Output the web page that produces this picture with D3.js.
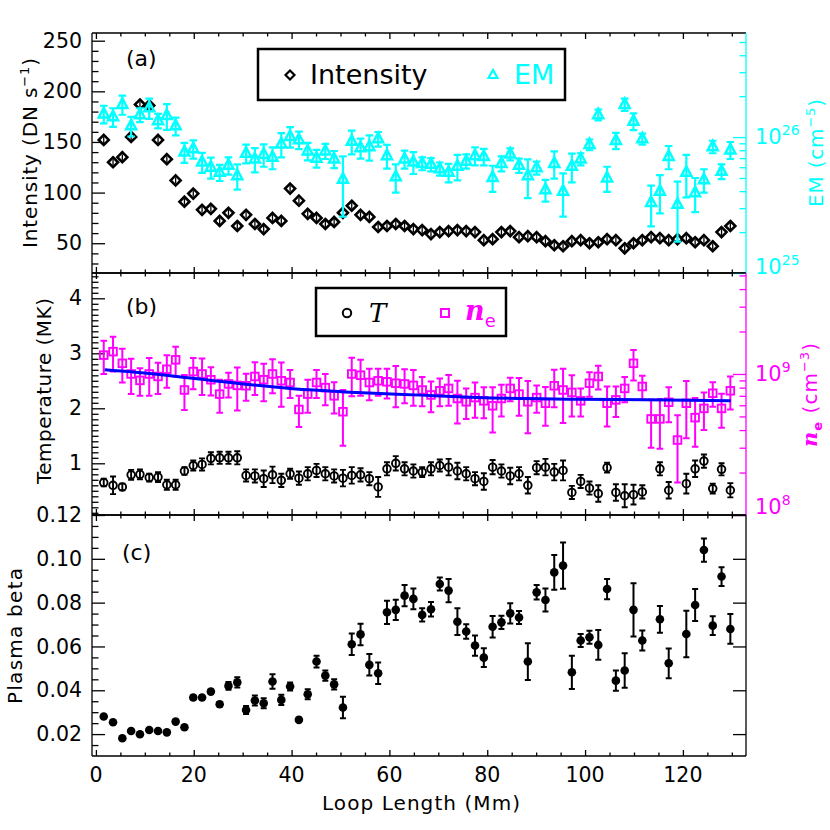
<!DOCTYPE html>
<html><head><meta charset="utf-8">
<script src="https://cdn.jsdelivr.net/npm/d3@7"></script>
<style>body{margin:0;background:#fff}svg{display:block}</style>
</head><body>
<svg id="c" width="830" height="830"></svg>
<script>
// ---------------- data ----------------
const loopLength = [1.6,3.5,5.4,7.2,9.0,10.9,12.7,14.5,16.3,18.1,19.9,21.7,23.5,25.3,27.1,28.9,30.7,32.5,34.3,36.1,37.9,39.7,41.5,43.3,45.1,46.9,48.7,50.5,52.3,54.1,55.9,57.7,59.5,61.3,63.1,64.9,66.7,68.5,70.3,72.1,73.9,75.7,77.5,79.3,81.1,82.9,84.7,86.5,88.3,90.1,91.9,93.7,95.5,97.3,99.1,100.9,102.7,104.5,106.3,108.1,109.9,111.7,113.5,115.3,117.1,118.9,120.7,122.5,124.3,126.1,127.9,129.7];
// Intensity (DN s^-1)
const intensity = [152,130,135,155,187,186,152,133,112,91, 99,83,84,72,80,67,78,69,64,75, 72,104,92,79,75,69,71,80,87,78, 76,66,67,69,67,64,63,59,61,62, 63,62,61,53,54,61,62,56,57,56, 52,48,47,52,53,50,51,54,53,45, 50,53,56,55,53,54,55,51,53,47, 61,67];
// EM in units of 1e25 cm^-5
const em = [14.8,14.1,17.4,12.1,14.6,16.4,13.2,14.4,12.1,7.75, 8.2,6.55,6.0,5.5,6.2,5.2,7.6,6.9,7.45,7.1, 8.9,10.1,9.55,7.9,7.0,7.9,6.9,4.9,9.3,8.35, 8.5,9.7,7.3,5.1,6.9,6.55,6.4,6.3,5.85,5.5, 6.1,6.65,7.3,7.2,5.05,6.4,7.5,6.2,5.2,5.95, 4.1,6.4,4.0,6.1,6.9,8.8,14.6,5.0,9.45,17.4, 13.1,9.7,3.3,4.0,7.2,3.2,5.5,3.9,4.85,8.5, 5.6,8.05];
const emErr = [2.2,2.2,2.8,2.0,1.7,2.8,1.6,3.1,1.8,1.3, 1.25,1.1,1.05,0.75,0.9,1.1,1.2,1.4,1.4,1.3, 1.8,1.75,1.4,1.15,1.05,1.0,1.0,2.3,1.85,1.4, 1.8,1.2,1.45,1.2,1.05,1.2,0.7,0.7,0.65,0.85, 1.3,0.8,1.1,1.0,1.1,0.8,0.75,0.75,1.65,0.65, 0.75,1.45,1.4,1.45,0.7,0.8,1.35,1.05,1.3,1.8, 1.85,0.9,1.1,1.25,1.4,1.5,1.9,1.1,0.95,0.9, 0.7,1.15];
// Temperature (MK)
const temperature = [0.65,0.60,0.57,0.79,0.80,0.74,0.75,0.61,0.61,0.86, 0.96,0.98,1.09,1.10,1.10,1.10,0.78,0.77,0.72,0.79, 0.69,0.81,0.73,0.81,0.87,0.81,0.77,0.73,0.78,0.79, 0.72,0.57,0.90,1.00,0.90,0.86,0.84,0.90,0.96,0.93, 0.86,0.81,0.72,0.67,0.93,0.86,0.77,0.81,0.60,0.92, 0.93,0.84,0.87,0.47,0.67,0.55,0.45,0.92,0.47,0.41, 0.43,0.48,null,0.90,0.51,null,0.63,0.90,1.04,0.54, 0.89,0.51];
const temperatureErr = [0.07,0.16,0.06,0.09,0.09,0.07,0.09,0.09,0.09,0.07, 0.09,0.11,0.11,0.11,0.11,0.12,0.11,0.12,0.15,0.15, 0.12,0.09,0.12,0.12,0.12,0.12,0.12,0.15,0.15,0.12, 0.12,0.18,0.12,0.13,0.12,0.12,0.09,0.12,0.11,0.15, 0.15,0.12,0.12,0.15,0.13,0.12,0.15,0.12,0.15,0.12, 0.15,0.15,0.18,0.12,0.12,0.12,0.15,0.09,0.15,0.21, 0.18,0.12,null,0.12,0.15,null,0.18,0.15,0.12,0.09, 0.11,0.13];
// Electron density in units of 1e8 cm^-3
const density = [13.6,14.4,11.9,10.0,9.0,10.0,9.6,10.8,12.6,7.7, 10.4,10.0,9.1,7.2,8.5,8.3,8.25,9.6,9.1,10.0, 8.95,8.7,5.6,7.2,8.7,8.0,7.0,5.4,10.0,9.8, 8.7,8.95,8.8,8.6,8.5,8.3,7.7,7.1,7.6,7.9, 6.7,6.35,6.8,6.45,5.95,6.7,7.9,7.2,6.35,6.8, 6.2,8.25,7.7,7.4,6.45,8.6,9.6,6.2,6.55,7.9, 11.9,8.15,4.8,4.8,6.3,3.4,6.2,4.9,5.7,7.3, 5.7,7.6];
const densityErr = [3.6,4.0,3.2,2.8,2.0,3.0,2.4,2.8,3.0,2.15, 2.6,2.9,2.05,1.9,1.7,2.8,1.8,2.5,2.7,2.7, 3.1,1.95,1.4,1.9,1.95,2.0,1.75,2.3,3.05,2.8, 2.2,1.95,2.1,2.8,2.3,2.35,1.8,1.75,1.7,1.95, 2.25,1.55,1.9,1.6,2.1,1.7,1.5,2.15,2.55,1.5, 1.9,2.45,3.2,2.4,1.45,1.7,1.85,1.95,1.6,1.6, 2.9,1.55,1.8,1.85,1.75,1.7,2.7,1.85,1.7,1.45, 1.55,2.0];
// Fitted density curve (blue)
const fitLength = [1.8,12.4,26.1,39.7,53.3,66.3,77.9,98.4,112.1,129.8];
const fitDensity = [10.7,9.97,8.80,7.89,7.39,7.08,6.81,6.63,6.56,6.45];
// Plasma beta
const beta = [0.0280,0.0254,0.0181,0.0214,0.0199,0.0219,0.0214,0.0208,0.0257,0.0231, 0.0367,0.0367,0.0394,0.0336,0.0420,0.0436,0.0310,0.0353,0.0341,0.0440, 0.0356,0.0417,0.0265,0.0382,0.0531,0.0467,0.0427,0.0321,0.0610,0.0655, 0.0516,0.0478,0.0756,0.0767,0.0832,0.0817,0.0744,0.0770,0.0885,0.0855, 0.0713,0.0668,0.0604,0.0549,0.0690,0.0710,0.0751,0.0732,0.0531,0.0847, 0.0812,0.0938,0.0969,0.0482,0.0627,0.0642,0.0607,0.0862,0.0444,0.0490, 0.0767,0.0627,null,0.0724,0.0523,null,0.0657,0.0789,0.1040,0.0695, 0.0919,0.0680];
const betaErr = [0.0005,0.0006,0.0004,0.0005,0.0005,0.0005,0.0005,0.0005,0.0006,0.0006, 0.0008,0.0008,0.0010,0.0010,0.0018,0.0023,0.0018,0.0023,0.0023,0.0033, 0.0023,0.0018,0.0010,0.0023,0.0027,0.0023,0.0023,0.0049,0.0049,0.0049, 0.0049,0.0049,0.0053,0.0046,0.0049,0.0047,0.0030,0.0033,0.0030,0.0053, 0.0061,0.0033,0.0046,0.0043,0.0049,0.0030,0.0046,0.0030,0.0084,0.0033, 0.0053,0.0079,0.0106,0.0076,0.0030,0.0030,0.0068,0.0046,0.0046,0.0079, 0.0122,0.0046,null,0.0061,0.0068,null,0.0106,0.0073,0.0053,0.0043, 0.0043,0.0068];
// tick labels
const xTicks = [0,20,40,60,80,100,120];
const intensityTicks = [50,100,150,200,250];
const temperatureTicks = [1,2,3,4];
const betaTicks = [0.02,0.04,0.06,0.08,0.10,0.12];
const emDecades = [{v:1, exp:"25"},{v:10, exp:"26"}];
const neDecades = [{v:1, exp:"8"},{v:10, exp:"9"}];

// ---------------- layout ----------------
const FONT = "DejaVu Sans, Verdana, sans-serif";
const L = 92, R = 746;
const PA = [33, 273], PB = [273, 515], PC = [515, 756];
const CYAN = "#00ffff", MAG = "#ff00ff", BLUE = "#0000ff";

const svg = d3.select("#c");
svg.append("rect").attr("width",830).attr("height",830).attr("fill","#fff");

const x = d3.scaleLinear().domain([-0.8, 132.9]).range([L, R]);
const yI = d3.scaleLinear().domain([20.6, 257.6]).range([PA[1], PA[0]]);
const yEM = d3.scaleLog().domain([1, 58.3]).range([PA[1], PA[0]]);
const yT = d3.scaleLinear().domain([0.06, 4.46]).range([PB[1], PB[0]]);
const yN = d3.scaleLog().domain([1, 52]).range([PB[1], PB[0]]);
const yB = d3.scaleLinear().domain([0.01, 0.12]).range([PC[1], PC[0]]);

const idx = d3.range(loopLength.length);

// ---------- axes helpers ----------
function styleAxis(g, color) {
  g.select(".domain").remove();
  g.selectAll(".tick line").attr("stroke", color).attr("stroke-width", 1.3);
  g.selectAll(".tick text").attr("fill", color).attr("font-family", FONT).attr("font-size", 20.5);
}
const xMinor = d3.range(0, 135, 5).filter(v => v % 20 !== 0);
function xAxes(top, bot, labels) {
  const gb = svg.append("g").attr("transform", `translate(0,${bot})`)
    .call(d3.axisBottom(x).tickValues(xTicks).tickSize(-6).tickFormat(""));
  styleAxis(gb, "#000");
  const gbm = svg.append("g").attr("transform", `translate(0,${bot})`)
    .call(d3.axisBottom(x).tickValues(xMinor).tickSize(-3.5).tickFormat(""));
  styleAxis(gbm, "#000");
  const gt = svg.append("g").attr("transform", `translate(0,${top})`)
    .call(d3.axisTop(x).tickValues(xTicks).tickSize(-6).tickFormat(""));
  styleAxis(gt, "#000");
  const gtm = svg.append("g").attr("transform", `translate(0,${top})`)
    .call(d3.axisTop(x).tickValues(xMinor).tickSize(-3.5).tickFormat(""));
  styleAxis(gtm, "#000");
  if (labels) {
    svg.append("g").selectAll("text").data(xTicks).join("text")
      .attr("x", d => x(d)).attr("y", bot + 26).attr("text-anchor", "middle")
      .attr("font-family", FONT).attr("font-size", 20.5).attr("fill", "#000")
      .text(d => d);
  }
}
function leftAxis(scale, major, minor, fmt) {
  const g = svg.append("g").attr("transform", `translate(${L},0)`)
    .call(d3.axisLeft(scale).tickValues(major).tickSize(-13).tickPadding(10).tickFormat(fmt));
  styleAxis(g, "#000");
  const gm = svg.append("g").attr("transform", `translate(${L},0)`)
    .call(d3.axisLeft(scale).tickValues(minor).tickSize(-6.5).tickFormat(""));
  styleAxis(gm, "#000");
  return g;
}
function rightAxis(scale, major, minor, color) {
  const g = svg.append("g").attr("transform", `translate(${R},0)`)
    .call(d3.axisRight(scale).tickValues(major).tickSize(-13).tickFormat(""));
  styleAxis(g, color);
  const gm = svg.append("g").attr("transform", `translate(${R},0)`)
    .call(d3.axisRight(scale).tickValues(minor).tickSize(-6.5).tickFormat(""));
  styleAxis(gm, color);
}
function frame(top, bot, rightColor) {
  svg.append("line").attr("x1", L).attr("x2", R).attr("y1", top).attr("y2", top).attr("stroke", "#000").attr("stroke-width", 1.3);
  svg.append("line").attr("x1", L).attr("x2", R).attr("y1", bot).attr("y2", bot).attr("stroke", "#000").attr("stroke-width", 1.3);
  svg.append("line").attr("x1", L).attr("x2", L).attr("y1", top).attr("y2", bot).attr("stroke", "#000").attr("stroke-width", 1.3);
  svg.append("line").attr("x1", R).attr("x2", R).attr("y1", top).attr("y2", bot).attr("stroke", rightColor).attr("stroke-width", 1.3);
}
function logLabels(scale, decades, color, shiftFn) {
  const t = svg.append("g").selectAll("text").data(decades).join("text")
    .attr("x", 755).attr("y", d => scale(d.v) + 7 + shiftFn(d))
    .attr("font-family", FONT).attr("font-size", 21).attr("fill", color);
  t.append("tspan").text("10");
  t.append("tspan").attr("dy", -9).attr("font-size", 14).text(d => d.exp);
}
function rotTitle(xp, yp, len, build) {
  const t = svg.append("text").attr("transform", `translate(${xp},${yp}) rotate(-90)`)
    .attr("text-anchor", "middle").attr("font-family", FONT).attr("font-size", 20)
    .attr("textLength", len).attr("lengthAdjust", "spacing");
  build(t);
  return t;
}
function errBars(g, xs, vals, errs, scale, color, cap, sw) {
  const ok = idx.filter(i => vals[i] != null);
  const eg = g.append("g").attr("stroke", color).attr("stroke-width", sw).attr("fill", "none");
  eg.selectAll("path").data(ok).join("path")
    .attr("d", i => {
      const xx = x(xs[i]);
      const y1 = scale(vals[i] + errs[i]);
      const y0 = scale(Math.max(vals[i] - errs[i], scale.domain()[0] * 1.0001));
      return `M${xx},${y0}V${y1}M${xx - cap},${y1}H${xx + cap}M${xx - cap},${y0}H${xx + cap}`;
    });
}

// ================= Panel (a) =================
frame(PA[0], PA[1], CYAN);
xAxes(PA[0], PA[1], false);
leftAxis(yI, intensityTicks, d3.range(30, 260, 10).filter(v => v % 50 !== 0), d => d);
rightAxis(yEM, [1, 10], yEM.ticks().filter(v => v !== 1 && v !== 10), CYAN);
logLabels(yEM, emDecades, CYAN, d => d.v === 1 ? -6 : 0);

const ga = svg.append("g");
// intensity diamonds
const dia = ga.append("g").selectAll("g").data(idx).join("g")
  .attr("transform", i => `translate(${x(loopLength[i])},${yI(intensity[i])})`);
dia.append("path").attr("d", "M0,-5L5,0L0,5L-5,0Z").attr("fill", "#fff").attr("stroke", "#000").attr("stroke-width", 2.6);
dia.append("path").attr("d", "M0,-3V3").attr("stroke", "#000").attr("stroke-width", 1.3);
// EM
errBars(ga, loopLength, em, emErr, yEM, CYAN, 3.8, 2.2);
ga.append("g").selectAll("path").data(idx).join("path")
  .attr("transform", i => `translate(${x(loopLength[i])},${yEM(em[i])})`)
  .attr("d", "M0,-6L5,3.5L-5,3.5Z").attr("fill", "none").attr("stroke", CYAN).attr("stroke-width", 2.5);

// legend (a)
svg.append("rect").attr("x", 258).attr("y", 49).attr("width", 307).attr("height", 51)
  .attr("fill", "#fff").attr("stroke", "#000").attr("stroke-width", 2.5);
svg.append("path").attr("transform", "translate(290,75)").attr("d", "M0,-4.5L4.5,0L0,4.5L-4.5,0Z")
  .attr("fill", "#fff").attr("stroke", "#000").attr("stroke-width", 2.2);
svg.append("text").attr("x", 310).attr("y", 84).attr("font-family", FONT).attr("font-size", 27).attr("fill", "#000").text("Intensity");
svg.append("path").attr("transform", "translate(493,75)").attr("d", "M0,-5L4.5,3L-4.5,3Z")
  .attr("fill", "none").attr("stroke", CYAN).attr("stroke-width", 2.2);
svg.append("text").attr("x", 514).attr("y", 84).attr("font-family", FONT).attr("font-size", 27).attr("fill", CYAN).text("EM");
svg.append("text").attr("x", 126).attr("y", 66).attr("font-family", FONT).attr("font-size", 22).text("(a)");

rotTitle(37, 153, 190, t => {
  t.append("tspan").text("Intensity (DN s");
  t.append("tspan").attr("dy", -8).attr("font-size", 13).text("−1");
  t.append("tspan").attr("dy", 8).text(")");
});
rotTitle(823, 153, 108, t => {
  t.attr("fill", CYAN);
  t.append("tspan").text("EM (cm");
  t.append("tspan").attr("dy", -8).attr("font-size", 13).text("−5");
  t.append("tspan").attr("dy", 8).text(")");
});

// ================= Panel (b) =================
frame(PB[0], PB[1], MAG);
xAxes(PB[0], PB[1], false);
leftAxis(yT, temperatureTicks, d3.range(1, 45).map(v => v / 10).filter(v => Math.abs(v - Math.round(v)) > 1e-6), d => d);
rightAxis(yN, [1, 10], yN.ticks().filter(v => v !== 1 && v !== 10), MAG);
logLabels(yN, neDecades, MAG, d => d.v === 1 ? -8 : 0);

const gb = svg.append("g");
errBars(gb, loopLength, temperature, temperatureErr, yT, "#000", 3, 1.9);
gb.append("g").selectAll("circle").data(idx.filter(i => temperature[i] != null)).join("circle")
  .attr("cx", i => x(loopLength[i])).attr("cy", i => yT(temperature[i])).attr("r", 3.8)
  .attr("fill", "none").attr("stroke", "#000").attr("stroke-width", 1.9);
errBars(gb, loopLength, density, densityErr, yN, MAG, 3.3, 2);
gb.append("g").selectAll("rect").data(idx).join("rect")
  .attr("x", i => x(loopLength[i]) - 3.8).attr("y", i => yN(density[i]) - 3.8)
  .attr("width", 7.6).attr("height", 7.6)
  .attr("fill", "none").attr("stroke", MAG).attr("stroke-width", 1.9);
gb.append("path").datum(idx.slice(0, fitLength.length))
  .attr("d", d3.line().x(i => x(fitLength[i])).y(i => yN(fitDensity[i])).curve(d3.curveMonotoneX))
  .attr("fill", "none").attr("stroke", BLUE).attr("stroke-width", 3);

// legend (b)
svg.append("rect").attr("x", 316).attr("y", 288).attr("width", 190).attr("height", 48)
  .attr("fill", "#fff").attr("stroke", "#000").attr("stroke-width", 2.5);
svg.append("circle").attr("cx", 347).attr("cy", 313).attr("r", 4.2)
  .attr("fill", "none").attr("stroke", "#000").attr("stroke-width", 2);
svg.append("text").attr("x", 369).attr("y", 322).attr("font-family", "DejaVu Serif, serif")
  .attr("font-style", "italic").attr("font-size", 26).text("T");
svg.append("rect").attr("x", 441).attr("y", 309).attr("width", 8).attr("height", 8)
  .attr("fill", "none").attr("stroke", MAG).attr("stroke-width", 2);
const neLeg = svg.append("text").attr("x", 465).attr("y", 320).attr("fill", MAG);
neLeg.append("tspan").attr("font-family", "DejaVu Serif, serif").attr("font-style", "italic").attr("font-weight", "bold").attr("font-size", 27).text("n");
neLeg.append("tspan").attr("dy", 7).attr("font-family", FONT).attr("font-size", 18).text("e");
svg.append("text").attr("x", 126).attr("y", 314).attr("font-family", FONT).attr("font-size", 22).text("(b)");

rotTitle(51, 391, 186, t => { t.text("Temperature (MK)"); });
rotTitle(817, 395, 104, t => {
  t.attr("fill", MAG);
  t.append("tspan").attr("font-family", "DejaVu Serif, serif").attr("font-style", "italic").attr("font-weight", "bold").attr("font-size", 21).text("n");
  t.append("tspan").attr("dy", 5).attr("font-size", 13).attr("font-weight", "bold").text("e");
  t.append("tspan").attr("dy", -5).text(" (cm");
  t.append("tspan").attr("dy", -8).attr("font-size", 13).text("−3");
  t.append("tspan").attr("dy", 8).text(")");
});

// ================= Panel (c) =================
frame(PC[0], PC[1], "#000");
xAxes(PC[0], PC[1], true);
const gBetaAxis = leftAxis(yB, betaTicks, d3.range(3, 24).map(v => v * 0.005).filter(v => Math.abs(v / 0.02 - Math.round(v / 0.02)) > 1e-6), d => d3.format(".2f")(d));
rightAxis(yB, betaTicks, [], "#000");

const gc = svg.append("g");
errBars(gc, loopLength, beta, betaErr, yB, "#000", 3, 2);
gc.append("g").selectAll("circle").data(idx.filter(i => beta[i] != null)).join("circle")
  .attr("cx", i => x(loopLength[i])).attr("cy", i => yB(beta[i])).attr("r", 4.3).attr("fill", "#000");
svg.append("text").attr("x", 122).attr("y", 560).attr("font-family", FONT).attr("font-size", 22).text("(c)");

rotTitle(22, 636, 136, t => { t.text("Plasma beta"); });
svg.append("text").attr("x", 421).attr("y", 810).attr("text-anchor", "middle")
  .attr("font-family", FONT).attr("font-size", 20).attr("textLength", 198).attr("lengthAdjust", "spacing")
  .text("Loop Length (Mm)");
</script>
</body></html>
